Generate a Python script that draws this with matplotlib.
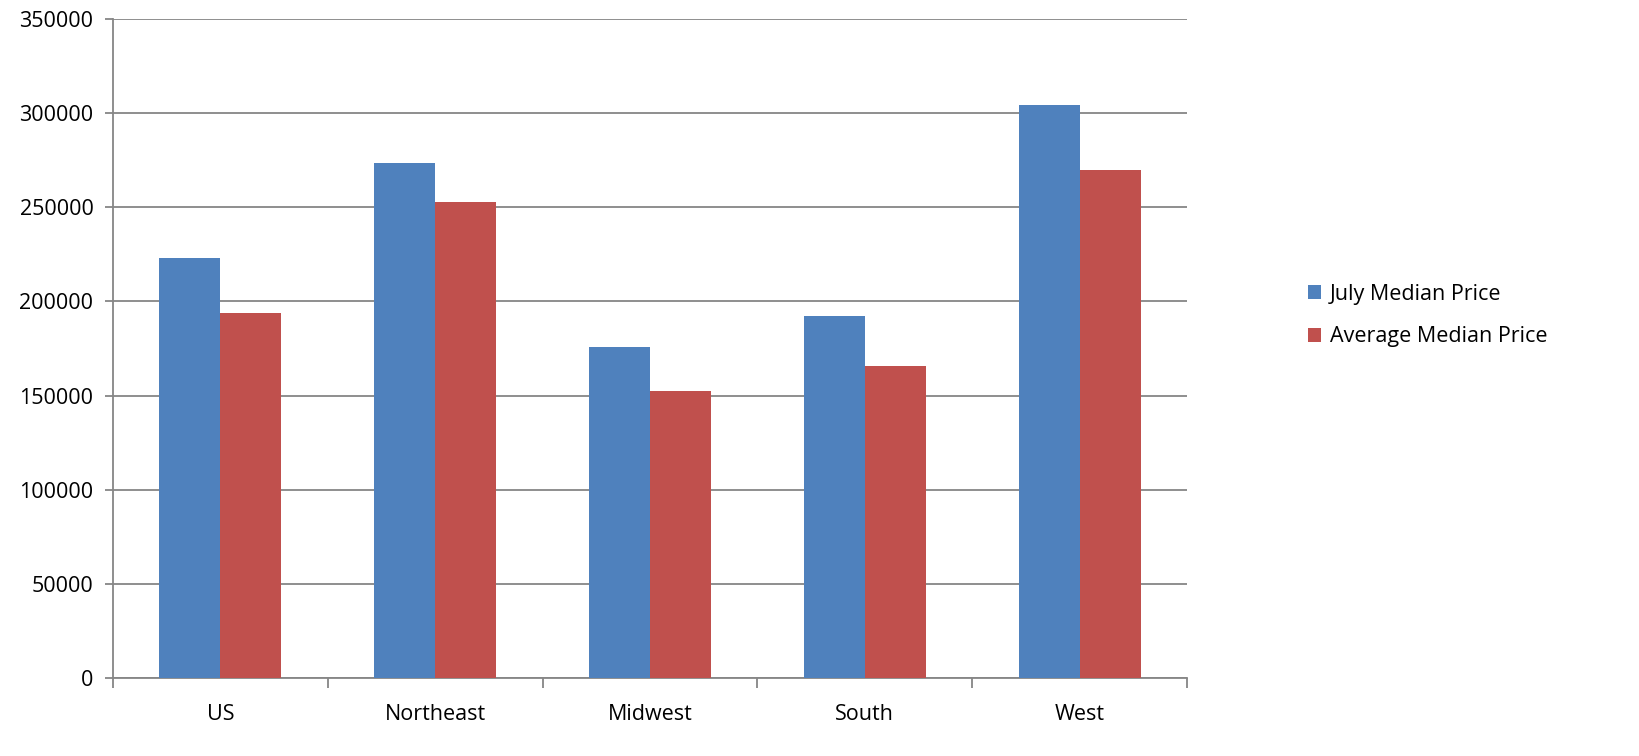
import matplotlib.pyplot as plt
import numpy as np

plt.rcParams["font.family"] = ["Open Sans", "DejaVu Sans"]

regioes = ["US", "Northeast", "Midwest", "South", "West"]
july_median = [223000, 273500, 175800, 192000, 304300]
average_median = [193900, 253000, 152400, 165700, 269800]
y_ticks = [0, 50000, 100000, 150000, 200000, 250000, 300000, 350000]

cor_azul = "#4F81BD"
cor_vermelho = "#C0504D"
cor_grade = "#868686"

fig = plt.figure(figsize=(16.39, 7.56), dpi=100)
ax = fig.add_axes([0.0689, 0.1032, 0.6553, 0.8717])

x = np.arange(len(regioes))
largura = 0.284
ax.bar(x - largura / 2, july_median, largura, color=cor_azul, label="July Median Price", zorder=3)
ax.bar(x + largura / 2, average_median, largura, color=cor_vermelho, label="Average Median Price", zorder=3)

ax.set_xlim(-0.5, len(regioes) - 0.5)
ax.set_ylim(0, 350000)
ax.set_yticks(y_ticks)
ax.set_yticklabels([str(v) for v in y_ticks])
ax.yaxis.grid(True, color=cor_grade, linewidth=1.3, zorder=0)

# ticks principais nos limites das categorias, rotulos no centro
ax.set_xticks(np.arange(len(regioes) + 1) - 0.5)
ax.set_xticklabels([])
ax.set_xticks(x, minor=True)
ax.set_xticklabels(regioes, minor=True)
ax.tick_params(axis="x", which="minor", length=0, pad=19, labelsize=15.5)
ax.tick_params(axis="x", which="major", length=7, width=1.3, color=cor_grade)
ax.tick_params(axis="y", length=6, width=1.3, color=cor_grade, labelsize=15.5, pad=8)

for lado in ["top", "right"]:
    ax.spines[lado].set_visible(False)
for lado in ["left", "bottom"]:
    ax.spines[lado].set_color(cor_grade)
    ax.spines[lado].set_linewidth(1.3)

ax.legend(
    loc="center left",
    bbox_to_anchor=(1.095, 0.55),
    frameon=False,
    fontsize=15.5,
    handlelength=0.6,
    handleheight=0.6,
    handletextpad=0.4,
    labelspacing=1.0,
)

fig.savefig("out.png", dpi=100)
